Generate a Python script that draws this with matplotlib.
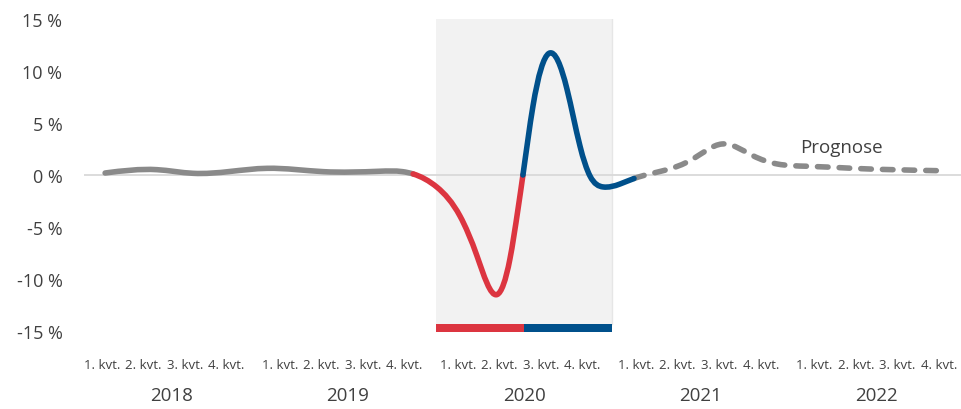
import matplotlib
matplotlib.use("Agg")
import matplotlib.pyplot as plt
from matplotlib.path import Path
from matplotlib.patches import PathPatch, Rectangle
from matplotlib.transforms import blended_transform_factory
import numpy as np

plt.rcParams["font.family"] = ["Open Sans", "DejaVu Sans"]

# Quarterly growth path (decimal year, percent)
hist_x = [2018.12, 2018.415, 2018.62, 2019.04, 2019.36, 2019.68, 2019.81, 2019.87]
hist_y = [0.19, 0.51, 0.16, 0.64, 0.32, 0.36, 0.32, 0.10]

fall_x = [2020.006, 2020.136, 2020.233, 2020.347, 2020.42, 2020.466, 2020.494]
fall_y = [-1.18, -3.94, -7.79, -11.5, -8.08, -3.27, 0.0]

rebound_x = [2020.551, 2020.642, 2020.744, 2020.818, 2020.875, 2020.949, 2021.045, 2021.125]
rebound_y = [6.63, 11.7, 8.27, 2.79, -0.1, -1.15, -0.87, -0.34]

forecast_x = [2021.29, 2021.46, 2021.625, 2021.80, 2021.938, 2022.108, 2022.369, 2022.864]
forecast_y = [0.41, 1.54, 2.98, 1.86, 1.06, 0.84, 0.64, 0.41]

years = [2018, 2019, 2020, 2021, 2022]
quarter_labels = ["1. kvt.", "2. kvt.", "3. kvt.", "4. kvt."]
ytick_values = [15, 10, 5, 0, -5, -10, -15]
ytick_labels = ["15 %", "10 %", "5 %", "0 %", "-5 %", "-10 %", "-15 %"]

crisis_start, crisis_split, crisis_end = 2020.0, 2020.5, 2021.0
forecast_label = "Prognose"

GRAY = "#8a8a8a"
RED = "#dc3540"
BLUE = "#00508b"
TEXT = "#404040"


def spline_slopes(x, y):
    """Knot slopes of a natural cubic spline through (x, y)."""
    x = np.asarray(x, float)
    y = np.asarray(y, float)
    n = len(x)
    h = np.diff(x)
    A = np.zeros((n, n))
    r = np.zeros(n)
    A[0, 0] = A[-1, -1] = 1.0
    for i in range(1, n - 1):
        A[i, i - 1] = h[i - 1]
        A[i, i] = 2 * (h[i - 1] + h[i])
        A[i, i + 1] = h[i]
        r[i] = 6 * ((y[i + 1] - y[i]) / h[i] - (y[i] - y[i - 1]) / h[i - 1])
    M = np.linalg.solve(A, r)
    m = np.empty(n)
    for i in range(n - 1):
        m[i] = (y[i + 1] - y[i]) / h[i] - h[i] * (2 * M[i] + M[i + 1]) / 6
    m[-1] = (y[-1] - y[-2]) / h[-1] + h[-1] * (M[-2] + 2 * M[-1]) / 6
    return m


def bezier_path(x, y, m, i0, i1):
    verts = [(x[i0], y[i0])]
    codes = [Path.MOVETO]
    for k in range(i0, i1):
        dx = (x[k + 1] - x[k]) / 3.0
        verts += [(x[k] + dx, y[k] + dx * m[k]),
                  (x[k + 1] - dx, y[k + 1] - dx * m[k + 1]),
                  (x[k + 1], y[k + 1])]
        codes += [Path.CURVE4] * 3
    return Path(verts, codes)


all_x = np.array(hist_x + fall_x + rebound_x + forecast_x)
all_y = np.array(hist_y + fall_y + rebound_y + forecast_y)
slopes = spline_slopes(all_x, all_y)

n1 = len(hist_x)
n2 = n1 + len(fall_x)
n3 = n2 + len(rebound_x)
n4 = n3 + len(forecast_x)

fig = plt.figure(figsize=(9.61, 4.10), dpi=100)
ax = fig.add_axes([84 / 961, 77 / 410, 877 / 961, 313 / 410])
ax.set_xlim(2018, 2018 + 877 / 176)
ax.set_ylim(-15.1, 15)
for s in ax.spines.values():
    s.set_visible(False)
ax.set_xticks([])
ax.set_yticks(ytick_values)
ax.set_yticklabels(ytick_labels, fontsize=13, color=TEXT)
ax.tick_params(axis="y", length=0, pad=15.5)

# crisis period shading and period bars
ax.axvspan(crisis_start, crisis_end, ymin=0.1 / 30.1, ymax=1, color="#f2f2f2", lw=0, zorder=0)
ax.plot([crisis_end, crisis_end], [-14.3, 15], color="#e6e6e6", lw=1, zorder=0.5)
ax.add_patch(Rectangle((crisis_start, -15.1), crisis_split - crisis_start, 0.78,
                       color=RED, lw=0, zorder=2))
ax.add_patch(Rectangle((crisis_split, -15.1), crisis_end - crisis_split, 0.78,
                       color=BLUE, lw=0, zorder=2))

ax.axhline(0, color="#d9d9d9", lw=1.3, zorder=1)

lw = 4.0
pieces = [
    (0, n1 - 1, GRAY, 4),
    (n1 - 1, n2 - 1, RED, 5),
    (n2 - 1, n3 - 1, BLUE, 6),
]
for i0, i1, col, z in pieces:
    ax.add_patch(PathPatch(bezier_path(all_x, all_y, slopes, i0, i1), fill=False,
                           edgecolor=col, lw=lw, capstyle="round", joinstyle="round",
                           zorder=z))
ax.add_patch(PathPatch(bezier_path(all_x, all_y, slopes, n3 - 1, n4 - 1), fill=False,
                       edgecolor=GRAY, lw=lw, linestyle=(0, (1.9, 2.0)),
                       capstyle="round", joinstyle="round", zorder=3))

ax.text(2022.068, 2.2, forecast_label, fontsize=13.5, color=TEXT, va="baseline", ha="left")

# quarter and year labels below the plot
trans = blended_transform_factory(ax.transData, fig.transFigure)
for i, yr in enumerate(years):
    shift = -0.045 + 0.012 * i
    for q, lab in enumerate(quarter_labels):
        xq = yr + 0.5 + shift + (q - 1.5) * 0.236
        ax.text(xq, 1 - 366 / 410, lab, transform=trans, fontsize=9.5, color=TEXT,
                ha="center", va="center")
    ax.text(yr + 0.5, 1 - 396 / 410, str(yr), transform=trans, fontsize=13.5,
            color=TEXT, ha="center", va="center")

fig.savefig("out.png", dpi=100)
